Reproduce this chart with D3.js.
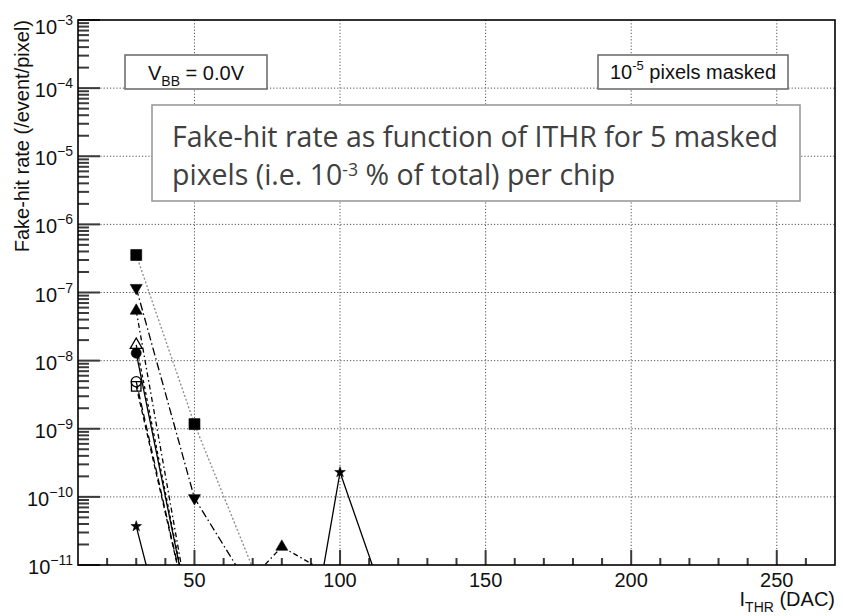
<!DOCTYPE html>
<html><head><meta charset="utf-8">
<script src="https://cdn.jsdelivr.net/npm/d3@7"></script>
<style>body{margin:0;background:#fff}svg{display:block}</style>
</head><body>
<svg id="chart" width="843" height="616"></svg>
<script>
// ---------- data ----------
const xTicksMajor = [50, 100, 150, 200, 250];
const xTicksMinor = [20, 30, 40, 60, 70, 80, 90, 110, 120, 130, 140, 160, 170, 180, 190, 210, 220, 230, 240, 260];
const yDecadeExps = [-11, -10, -9, -8, -7, -6, -5, -4, -3];

// value 0 = no fake hits (ROOT draws log(0) at the pad's lower edge)
const xSqFilled  = [30, 50, 80];          const ySqFilled  = [3.55e-7, 1.17e-9, 0];
const xTriDown   = [30, 50, 80];          const yTriDown   = [1.17e-7, 9.6e-11, 0];
const xTriUp     = [30, 50, 80, 100];     const yTriUp     = [5.4e-8, 0, 1.85e-11, 6e-12];
const xTriUpOpen = [30, 50];              const yTriUpOpen = [1.7e-8, 0];
const xCircFill  = [30, 50];              const yCircFill  = [1.29e-8, 0];
const xCircOpen  = [30, 50];              const yCircOpen  = [4.9e-9, 0];
const xSqOpen    = [30, 50];              const ySqOpen    = [4.2e-9, 0];
const xStar      = [30, 40, 90, 100, 120];const yStar      = [3.7e-11, 0, 0, 2.3e-10, 0];

// ---------- layout ----------
const svg = d3.select("#chart");
const F = {l: 78, r: 835, t: 20, b: 565};
const x = d3.scaleLinear().domain([10, 270]).range([F.l, F.r]);
const y = d3.scaleLog().domain([1e-11, 1e-3]).range([F.b, F.t]);
const zeroFloor = 8e-13;
const yv = v => y(v > 0 ? v : zeroFloor);
const helv = "'Liberation Sans', Arial, Helvetica, sans-serif";

svg.append("rect").attr("width", 843).attr("height", 616).attr("fill", "#fff");

svg.append("defs").append("clipPath").attr("id", "frameclip")
  .append("rect").attr("x", F.l).attr("y", F.t).attr("width", F.r - F.l).attr("height", F.b - F.t);

// ---------- grid ----------
const grid = svg.append("g").attr("stroke", "#555").attr("stroke-width", 1).attr("stroke-dasharray", "1.2,2");
yDecadeExps.filter(e => e > -11 && e < -3).forEach(e => {
  grid.append("line").attr("x1", F.l).attr("x2", F.r).attr("y1", y(Math.pow(10, e))).attr("y2", y(Math.pow(10, e)));
});
xTicksMajor.forEach(v => {
  grid.append("line").attr("x1", x(v)).attr("x2", x(v)).attr("y1", F.t).attr("y2", F.b);
});

// ---------- ticks (inside the frame, ROOT style) ----------
const yMinorVals = [];
yDecadeExps.slice(0, -1).forEach(e => { for (let k = 2; k <= 9; k++) yMinorVals.push(k * Math.pow(10, e)); });
const yMajorVals = yDecadeExps.map(e => Math.pow(10, e));
const tickRects = [];
yMinorVals.forEach(v => tickRects.push({x: F.l, y: y(v) - 1, w: 11, h: 2}));
yMajorVals.forEach(v => tickRects.push({x: F.l, y: y(v) - 1, w: 22, h: 2}));
xTicksMinor.forEach(v => tickRects.push({x: x(v) - 1, y: F.b - 7, w: 2, h: 7}));
xTicksMajor.forEach(v => tickRects.push({x: x(v) - 1, y: F.b - 15, w: 2, h: 15}));
svg.append("g").selectAll("rect").data(tickRects).enter().append("rect")
  .attr("x", d => d.x).attr("y", d => d.y).attr("width", d => d.w).attr("height", d => d.h)
  .attr("fill", "#3a3a3a");

// ---------- tick labels ----------
yDecadeExps.forEach(e => {
  const yy = y(Math.pow(10, e));
  const t = svg.append("text").attr("x", 73).attr("y", Math.max(yy + 9, 34))
    .attr("text-anchor", "end").attr("font-family", helv).attr("font-size", 20).attr("fill", "#111");
  t.append("tspan").text("10");
  t.append("tspan").attr("dy", -9).attr("font-size", 14).text("\u2212" + Math.abs(e));
});
xTicksMajor.forEach(v => {
  svg.append("text").attr("x", x(v)).attr("y", 587).attr("text-anchor", "middle")
    .attr("font-family", helv).attr("font-size", 20).attr("fill", "#111").text(v);
});

// axis titles
const xt = svg.append("text").attr("x", 835).attr("y", 606).attr("text-anchor", "end")
  .attr("font-family", helv).attr("font-size", 20).attr("fill", "#111");
xt.append("tspan").text("I");
xt.append("tspan").attr("dy", 6).attr("font-size", 14).text("THR");
xt.append("tspan").attr("dy", -6).text(" (DAC)");

svg.append("text").attr("transform", "translate(29,20) rotate(-90)").attr("text-anchor", "end")
  .attr("font-family", helv).attr("font-size", 20).attr("fill", "#111")
  .text("Fake-hit rate (/event/pixel)");

// ---------- data ----------
const series = [
  {xs: xSqFilled,  ys: ySqFilled,  sym: d3.symbolSquare,   size: 121, fill: "#000", rot: 0,   stroke: "#8a8a8a", dash: "2,2"},
  {xs: xTriDown,   ys: yTriDown,   sym: d3.symbolTriangle, size: 62,  fill: "#000", rot: 180, stroke: "#000", dash: "8,3,1.5,3"},
  {xs: xTriUp,     ys: yTriUp,     sym: d3.symbolTriangle, size: 62,  fill: "#000", rot: 0,   stroke: "#000", dash: "5,3,1.5,3"},
  {xs: xTriUpOpen, ys: yTriUpOpen, sym: d3.symbolTriangle, size: 62,  fill: "none", rot: 0,  stroke: "#000", dash: "3,3"},
  {xs: xCircOpen,  ys: yCircOpen,  sym: d3.symbolCircle,   size: 80,  fill: "none", rot: 0,  stroke: "#000", dash: "7,4"},
  {xs: xSqOpen,    ys: ySqOpen,    sym: d3.symbolSquare,   size: 90,  fill: "none", rot: 0,  stroke: "#000", dash: "5,3"},
  {xs: xCircFill,  ys: yCircFill,  sym: d3.symbolCircle,   size: 80,  fill: "#000", rot: 0,  stroke: "#000", dash: null},
  {xs: xStar,      ys: yStar,      sym: d3.symbolStar,     size: 35,  fill: "#000", rot: 0,  stroke: "#000", dash: null}
];
const plot = svg.append("g").attr("clip-path", "url(#frameclip)");
const line = d3.line().x(d => x(d[0])).y(d => yv(d[1]));
series.forEach(s => {
  const pts = s.xs.map((xv, i) => [xv, s.ys[i]]);
  plot.append("path").attr("d", line(pts)).attr("fill", "none")
    .attr("stroke", s.stroke).attr("stroke-width", 1.3)
    .attr("stroke-dasharray", s.dash);
});
series.forEach(s => {
  const pts = s.xs.map((xv, i) => [xv, s.ys[i]]).filter(p => p[1] > 0);
  plot.selectAll(null).data(pts).enter().append("path")
    .attr("d", d3.symbol().type(s.sym).size(s.size)())
    .attr("transform", d => `translate(${x(d[0])},${yv(d[1])}) rotate(${s.rot})`)
    .attr("fill", s.fill).attr("stroke", "#000").attr("stroke-width", s.fill === "none" ? 1.3 : 0.6);
});

// ---------- frame ----------
svg.append("rect").attr("x", F.l).attr("y", F.t).attr("width", F.r - F.l).attr("height", F.b - F.t)
  .attr("fill", "none").attr("stroke", "#000").attr("stroke-width", 1.6);

// ---------- annotation boxes ----------
svg.append("rect").attr("x", 125).attr("y", 55).attr("width", 142).attr("height", 34)
  .attr("fill", "#fff").attr("stroke", "#666").attr("stroke-width", 1.5);
const vb = svg.append("text").attr("x", 196).attr("y", 80).attr("text-anchor", "middle")
  .attr("font-family", helv).attr("font-size", 20).attr("fill", "#111");
vb.append("tspan").text("V");
vb.append("tspan").attr("dy", 6).attr("font-size", 14).text("BB");
vb.append("tspan").attr("dy", -6).text(" = 0.0V");

svg.append("rect").attr("x", 598).attr("y", 55).attr("width", 190).attr("height", 34)
  .attr("fill", "#fff").attr("stroke", "#666").attr("stroke-width", 1.5);
const pm = svg.append("text").attr("x", 693).attr("y", 79).attr("text-anchor", "middle")
  .attr("font-family", helv).attr("font-size", 20).attr("fill", "#111");
pm.append("tspan").text("10");
pm.append("tspan").attr("dy", -9).attr("font-size", 13).text("-5");
pm.append("tspan").attr("dy", 9).text(" pixels masked");

svg.append("rect").attr("x", 152).attr("y", 105).attr("width", 648).attr("height", 96)
  .attr("fill", "#fff").attr("stroke", "#9a9a9a").attr("stroke-width", 1.6);
const noteFont = "'Open Sans', 'Noto Sans', sans-serif";
const l1 = svg.append("text").attr("x", 172).attr("y", 147)
  .attr("font-family", noteFont).attr("font-size", 22).attr("fill", "#404040")
  .text("Fake-hit rate as function of ITHR for 5 masked");
const w1 = l1.node().getComputedTextLength();
const fs = 22 * 606 / w1;
l1.attr("font-size", fs);
const l2 = svg.append("text").attr("x", 172).attr("y", 185)
  .attr("font-family", noteFont).attr("font-size", fs).attr("fill", "#404040");
l2.append("tspan").text("pixels (i.e. 10");
l2.append("tspan").attr("dy", -9).attr("font-size", fs * 0.62).text("-3");
l2.append("tspan").attr("dy", 9).text(" % of total) per chip");
</script>
</body></html>
